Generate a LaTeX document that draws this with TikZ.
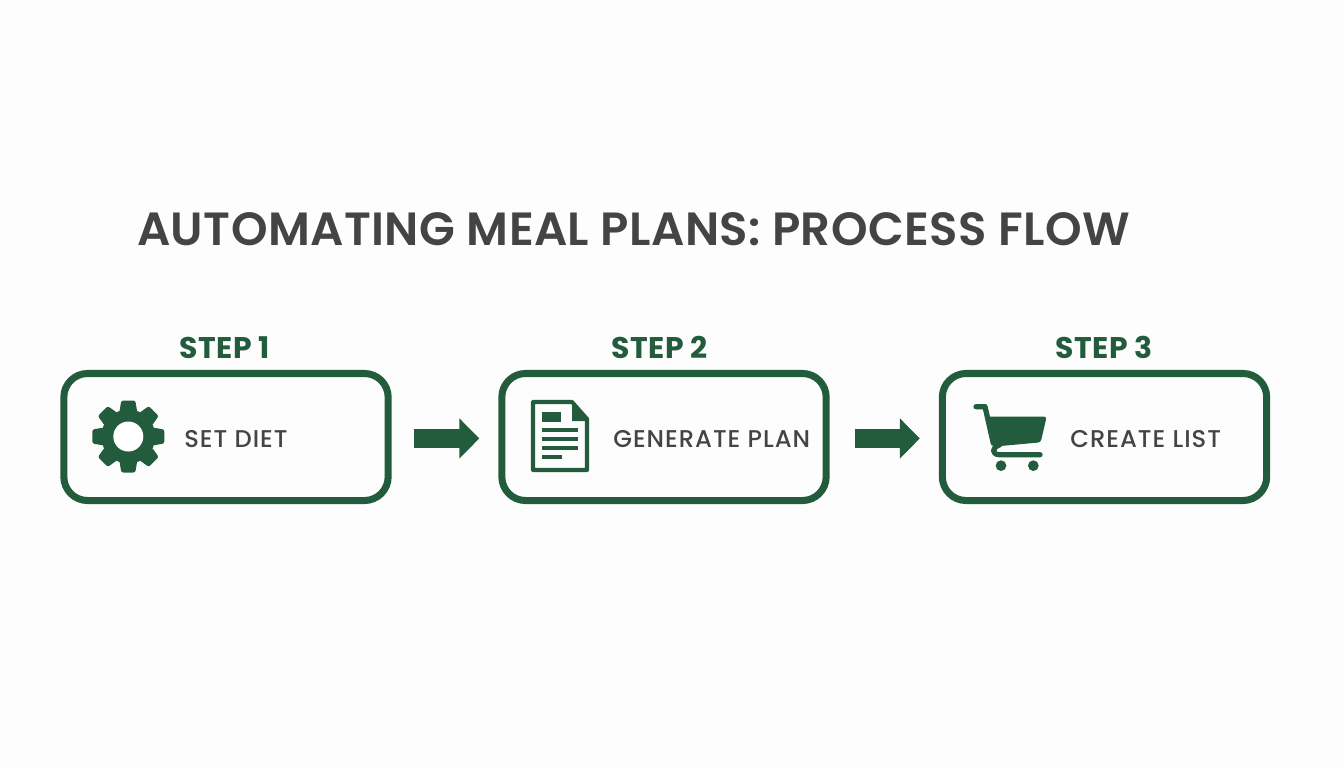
\documentclass[tikz,border=0pt]{standalone}
\usepackage{fontspec}
\setmainfont{Liberation Sans}
\newfontfamily\titlefont[LetterSpace=0.9]{Poppins SemiBold}
\newfontfamily\tagfont[LetterSpace=2]{Poppins Bold}
\newfontfamily\labelfont[LetterSpace=4]{Poppins Medium}
\usetikzlibrary{arrows.meta}
\definecolor{leaf}{HTML}{235B3D}
\definecolor{ink}{HTML}{444444}
\tikzset{
  stepbox/.style={draw=leaf,line width=4pt,rounded corners=13.5pt,minimum width=184.6pt,minimum height=72.3pt},
  steptag/.style={text=leaf,font=\fontsize{17}{19}\tagfont},
  boxtext/.style={text=ink,anchor=west,font=\fontsize{13.8}{15}\labelfont},
  flowarrow/.style={draw=leaf,line width=10.8pt,shorten <=12.5pt,shorten >=10.8pt,-{Triangle[length=11.4pt,width=22.2pt]}},
  iconline/.style={draw=leaf,line width=2.3pt}
}
\begin{document}
\begin{tikzpicture}[x=0.02cm,y=0.02cm]
        \tikzstyle{every node}+=[inner sep=0pt]
        \fill [white!99!leaf] (0,0) rectangle (1344,-768);
        \useasboundingbox (0,0) rectangle (1344,-768);
        \node (title) [text=ink,font=\fontsize{26.5}{30}\titlefont] at (633.5,-229.5) {AUTOMATING MEAL PLANS: PROCESS FLOW};
        \node (box1) [stepbox] at (226,-437) {};
        \node (box2) [stepbox] at (664,-437) {};
        \node (box3) [stepbox] at (1104.5,-437) {};
        \node (tag1) [steptag] at (224.5,-347.5) {STEP 1};
        \node (tag2) [steptag] at (659.5,-347.5) {STEP 2};
        \node (tag3) [steptag] at (1104,-347.5) {STEP 3};
        \node (text1) [boxtext] at (184,-439.5) {SET DIET};
        \node (text2) [boxtext] at (613,-439.5) {GENERATE PLAN};
        \node (text3) [boxtext] at (1070,-439.5) {CREATE LIST};
        \draw [flowarrow] ([yshift=-0.8pt]box1.east) -- ([yshift=-0.8pt]box2.west);
        \draw [flowarrow,shorten <=14.2pt] ([yshift=-0.8pt]box2.east) -- ([yshift=-0.8pt]box3.west);
        \begin{scope}[shift={(128.3,-436.5)}]
          \fill [leaf] (0,0) circle (27);
          \foreach \a in {0,45,...,315}
            \fill [leaf,rotate=\a,rounded corners=1.2pt] (-9,24) -- (-7,36) -- (7,36) -- (9,24) -- cycle;
          \fill [white] (0,0) circle (15);
        \end{scope}
        \begin{scope}[shift={(531,-400)}]
          \draw [iconline,line join=round] (2,-2) -- (41,-2) -- (56,-19) -- (56,-70) -- (2,-70) -- cycle;
          \fill [leaf,line join=round] (41,-1) -- (57.5,-18) -- (57.5,-21) -- (41,-21) -- cycle;
          \fill [leaf] (10.7,-12) rectangle (30,-22);
          \foreach \y in {-30,-39,-48}
            \fill [leaf] (10.7,\y+2) rectangle (47,\y-2);
          \fill [leaf] (10.7,-55) rectangle (31,-59);
        \end{scope}
        \begin{scope}[shift={(930,-330)},x=0.00667cm,y=0.00667cm]
          \fill [leaf,rounded corners=1.5pt] (170,-260) -- (350,-260) -- (332,-337) -- (190,-350) -- cycle;
          \draw [leaf,line width=3pt,line cap=round,line join=round] (138,-230) -- (165,-230) -- (190,-340);
          \draw [leaf,line width=3pt,line cap=round,line join=round] (208,-345) .. controls (185,-352) and (185,-374) .. (208,-374) -- (330,-374);
          \fill [leaf] (213,-407) circle (16);
          \fill [leaf] (310,-407) circle (16);
        \end{scope}
\end{tikzpicture}
\end{document}
